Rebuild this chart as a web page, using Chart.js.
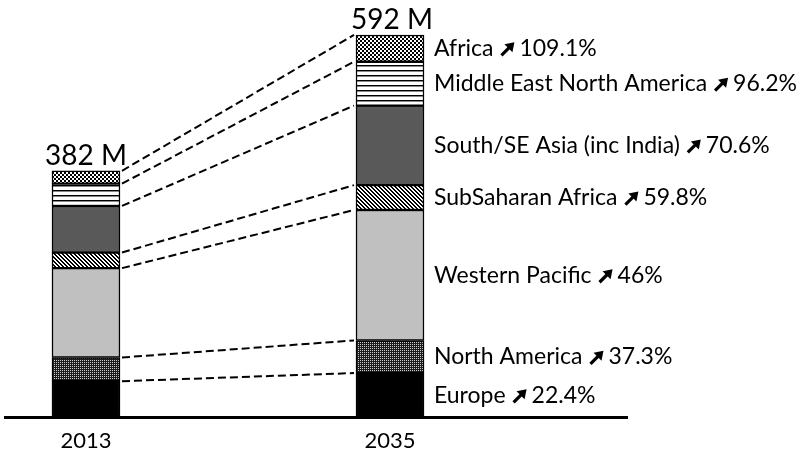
<!DOCTYPE html>
<html>
<head>
<meta charset="utf-8">
<script src="https://cdn.jsdelivr.net/npm/chart.js@4.4.1/dist/chart.umd.min.js"></script>
<style>
  html, body { margin: 0; padding: 0; background: #fff; }
  #wrap { width: 800px; height: 450px; }
</style>
</head>
<body>
<div id="wrap"><canvas id="chart"></canvas></div>
<script>
const years = [2013, 2035];
const regions = ['Europe', 'North America', 'Western Pacific', 'SubSaharan Africa',
  'South/SE Asia (inc India)', 'Middle East North America', 'Africa'];
// people with diabetes, millions
const values2013 = [56.3, 36.7, 138.2, 24.1, 72.1, 34.6, 19.8];
const values2035 = [68.9, 50.4, 201.8, 38.5, 123.0, 67.9, 41.4];
const growth = ['22.4%', '37.3%', '46%', '59.8%', '70.6%', '96.2%', '109.1%'];
const totals = ['382 M', '592 M'];

const FONT = 'Lato, "DejaVu Sans", sans-serif';
const BAR = 68;

function makePattern(w, h, draw) {
  const c = document.createElement('canvas');
  c.width = w; c.height = h;
  const g = c.getContext('2d');
  draw(g);
  return g.createPattern(c, 'repeat');
}

const fills = [
  '#000000',
  makePattern(2, 2, g => {          // fine dots
    g.fillStyle = '#1c1c1c'; g.fillRect(0, 0, 2, 2);
    g.fillStyle = '#d0d0d0'; g.fillRect(0, 0, 1, 1);
  }),
  '#c0c0c0',
  makePattern(4, 4, g => {          // diagonal stripes
    g.fillStyle = '#fff'; g.fillRect(0, 0, 4, 4);
    g.fillStyle = '#000';
    for (let i = 0; i < 4; i++) { g.fillRect(i, i, 1, 1); g.fillRect((i + 1) % 4, i, 1, 1); }
  }),
  '#595959',
  makePattern(4, 5, g => {          // horizontal lines
    g.fillStyle = '#fff'; g.fillRect(0, 0, 4, 5);
    g.fillStyle = '#000'; g.fillRect(0, 0, 4, 1);
    g.fillStyle = '#888'; g.fillRect(0, 1, 4, 1);
  }),
  makePattern(4, 4, g => {          // small checkerboard
    g.fillStyle = '#fff'; g.fillRect(0, 0, 4, 4);
    g.fillStyle = '#000'; g.fillRect(0, 0, 2, 2); g.fillRect(2, 2, 2, 2);
  })
];

const datasets = regions.map((name, i) => ({
  label: name,
  data: [{ x: years[0], y: values2013[i] }, { x: years[1], y: values2035[i] }],
  backgroundColor: fills[i],
  borderColor: '#000',
  borderWidth: 1.5,
  borderSkipped: false,
  barThickness: BAR
}));

function drawArrow(ctx, ax, cy) {
  ctx.beginPath();
  ctx.moveTo(ax + 1, cy + 7);
  ctx.lineTo(ax + 9, cy - 1);
  ctx.lineWidth = 3.2;
  ctx.stroke();
  ctx.beginPath();
  ctx.moveTo(ax + 14, cy - 6);
  ctx.lineTo(ax + 4, cy - 4);
  ctx.lineTo(ax + 12, cy + 4);
  ctx.closePath();
  ctx.fill();
}

const annotate = {
  id: 'annotate',
  afterDatasetsDraw(chart) {
    const { ctx, scales: { x, y } } = chart;
    const xa = x.getPixelForValue(years[0]);
    const xb = x.getPixelForValue(years[1]);
    ctx.save();
    ctx.strokeStyle = '#000';
    ctx.fillStyle = '#000';

    // dashed connectors between segment boundaries
    ctx.setLineDash([8, 4]);
    ctx.lineWidth = 2;
    let c1 = 0, c2 = 0;
    values2013.forEach((v, i) => {
      c1 += v; c2 += values2035[i];
      ctx.beginPath();
      ctx.moveTo(xa + BAR / 2 + 2, y.getPixelForValue(c1));
      ctx.lineTo(xb - BAR / 2 - 2, y.getPixelForValue(c2));
      ctx.stroke();
    });
    ctx.setLineDash([]);

    // totals above bars
    ctx.font = '28px ' + FONT;
    ctx.textAlign = 'center';
    ctx.textBaseline = 'alphabetic';
    ctx.fillText(totals[0], xa, y.getPixelForValue(c1) - 6);
    ctx.fillText(totals[1], xb + 2, y.getPixelForValue(c2) - 6);

    // region labels next to 2035 bar
    ctx.font = '23px ' + FONT;
    ctx.textAlign = 'left';
    ctx.textBaseline = 'middle';
    let cum = 0;
    const lx = xb + BAR / 2 + 10;
    values2035.forEach((v, i) => {
      const cy = y.getPixelForValue(cum + v / 2);
      cum += v;
      ctx.fillText(regions[i], lx, cy);
      const ax = lx + ctx.measureText(regions[i]).width + 7;
      drawArrow(ctx, ax, cy);
      ctx.fillText(growth[i], ax + 19, cy);
    });
    ctx.restore();
  }
};

new Chart(document.getElementById('chart'), {
  type: 'bar',
  data: { datasets },
  plugins: [annotate],
  options: {
    responsive: true,
    maintainAspectRatio: false,
    animation: false,
    layout: { padding: { left: 5, right: 173, top: 0, bottom: -14 } },
    plugins: { legend: { display: false }, tooltip: { enabled: false } },
    scales: {
      x: {
        type: 'linear',
        offset: false,
        min: 2007.14,
        max: 2052.15,
        stacked: true,
        grid: { display: false, drawTicks: false, offset: false },
        border: { display: true, color: '#000', width: 3 },
        afterBuildTicks: s => { s.ticks = years.map(v => ({ value: v })); },
        ticks: {
          color: '#000',
          font: { family: FONT, size: 22 },
          padding: 10,
          autoSkip: false,
          maxRotation: 0,
          callback: v => String(v)
        }
      },
      y: { display: false, stacked: true, min: 0, max: 646 }
    }
  }
});
</script>
</body>
</html>
